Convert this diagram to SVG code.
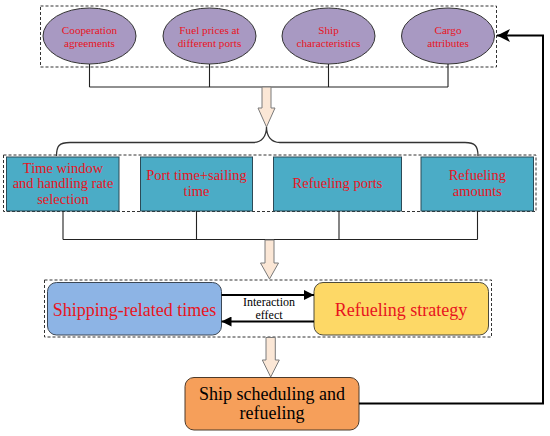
<svg xmlns="http://www.w3.org/2000/svg" width="550" height="436" viewBox="0 0 550 436">
<defs>
<style>
.dash{fill:none;stroke:#333;stroke-width:1;stroke-dasharray:3 2}
.ell{fill:#a899c2;stroke:#333;stroke-width:1}
.teal{fill:#4bacc6;stroke:#2b4a57;stroke-width:1}
.ln{fill:none;stroke:#222;stroke-width:1.1}
.blk{fill:#fbe7d6;stroke:#7a7a7a;stroke-width:1}
.rt{font-family:"Liberation Serif","Times New Roman",serif;fill:#e8141e;text-anchor:middle}
.bt{font-family:"Liberation Serif","Times New Roman",serif;fill:#000;text-anchor:middle}
</style>
<marker id="ah" viewBox="0 0 10 10" refX="10" refY="5" markerWidth="10" markerHeight="10" markerUnits="userSpaceOnUse" orient="auto">
<path d="M0,0 L10,5 L0,10 z" fill="#000"/>
</marker>
<marker id="ah2" viewBox="0 0 12 12" refX="12" refY="6" markerWidth="13" markerHeight="13" markerUnits="userSpaceOnUse" orient="auto">
<path d="M0,0 L12,6 L0,12 L3,6 z" fill="#000"/>
</marker>
</defs>
<rect width="550" height="436" fill="#fff"/>

<g id="group-factors">
<rect class="dash" x="40.5" y="6" width="456" height="61"/>
</g>
<g id="node-cooperation">
<ellipse class="ell" cx="89.5" cy="36" rx="46.5" ry="28"/>
<text class="rt" font-size="11.2" x="89.5" y="33.5">Cooperation</text>
<text class="rt" font-size="11.2" x="89.5" y="46.5">agreements</text>
</g>
<g id="node-fuel">
<ellipse class="ell" cx="209.5" cy="36" rx="46.5" ry="28"/>
<text class="rt" font-size="11.2" x="209.5" y="33.5">Fuel prices at</text>
<text class="rt" font-size="11.2" x="209.5" y="46.5">different ports</text>
</g>
<g id="node-ship">
<ellipse class="ell" cx="328.5" cy="36" rx="46.5" ry="28"/>
<text class="rt" font-size="11.2" x="328.5" y="33.5">Ship</text>
<text class="rt" font-size="11.2" x="328.5" y="46.5">characteristics</text>
</g>
<g id="node-cargo">
<ellipse class="ell" cx="448" cy="36" rx="46.5" ry="28"/>
<text class="rt" font-size="11.2" x="448" y="33.5">Cargo</text>
<text class="rt" font-size="11.2" x="448" y="46.5">attributes</text>
</g>

<g id="group-decisions">
<rect class="dash" x="3.5" y="155" width="532.5" height="56.5"/>
</g>
<g id="node-timewindow">
<rect class="teal" x="6.5" y="157" width="112.5" height="54"/>
<text class="rt" font-size="14.5" x="63" y="172.5">Time window</text>
<text class="rt" font-size="14.5" x="63" y="188">and handling rate</text>
<text class="rt" font-size="14.5" x="63" y="203.5">selection</text>
</g>
<g id="node-porttime">
<rect class="teal" x="140.5" y="157" width="112" height="54"/>
<text class="rt" font-size="14.5" x="196.5" y="180">Port time+sailing</text>
<text class="rt" font-size="14.5" x="196.5" y="196">time</text>
</g>
<g id="node-refuelports">
<rect class="teal" x="273.5" y="157" width="128" height="54"/>
<text class="rt" font-size="14.5" x="337.5" y="188">Refueling ports</text>
</g>
<g id="node-refuelamounts">
<rect class="teal" x="421" y="157" width="112.5" height="54"/>
<text class="rt" font-size="14.5" x="477.3" y="180">Refueling</text>
<text class="rt" font-size="14.5" x="477.3" y="196">amounts</text>
</g>

<g id="group-interaction">
<rect class="dash" x="44.5" y="280" width="447" height="57"/>
</g>
<g id="node-shippingtimes">
<rect x="47.5" y="282.5" width="174" height="52.5" rx="9" fill="#8db4e5" stroke="#3b4756" stroke-width="1"/>
<text class="rt" font-size="18" x="134.5" y="316">Shipping-related times</text>
</g>
<g id="node-refuelstrategy">
<rect x="314" y="282.5" width="174.5" height="52.5" rx="9" fill="#fdd866" stroke="#4d4a3a" stroke-width="1"/>
<text class="rt" font-size="18" x="401" y="316">Refueling strategy</text>
</g>
<g id="node-scheduling">
<rect x="185" y="377.5" width="174" height="52.5" rx="9" fill="#f69f5a" stroke="#4d3a2a" stroke-width="1"/>
<text class="bt" font-size="18" x="272" y="400">Ship scheduling and</text>
<text class="bt" font-size="18" x="272" y="419">refueling</text>
</g>

<g id="connectors">
<path class="ln" d="M89.5,64 V87 M209.5,64 V87 M328.5,64 V87 M448,64 V87 M89.5,87 H448"/>
<polygon class="blk" points="262,87 271,87 271,108 275,108 266.5,127 258,108 262,108"/>
<path fill="none" stroke="#333" stroke-width="1.3" d="M56.5,156 C56.5,146 59,142.5 70,142.5 L253,142.5 C262,142.5 266.5,136 266.5,127 C266.5,136 271,142.5 280,142.5 L465,142.5 C475,142.5 478,146 478,156"/>
<path class="ln" d="M63,211 V239.5 M196.5,211 V239.5 M339,211 V239.5 M477.5,211 V239.5 M63,239.5 H477.5"/>
<polygon class="blk" points="265,240 274,240 274,263 278.5,263 269.5,279 260.5,263 265,263"/>
<line x1="221.5" y1="295" x2="314" y2="295" stroke="#000" stroke-width="1.8" marker-end="url(#ah)"/>
<line x1="314" y1="321.5" x2="221.5" y2="321.5" stroke="#000" stroke-width="1.8" marker-end="url(#ah)"/>
<text class="bt" font-size="12" x="269" y="306">Interaction</text>
<text class="bt" font-size="12" x="269" y="318.5">effect</text>
<polygon class="blk" points="266,337.5 275.3,337.5 275.3,360 279.3,360 270.7,377 262.3,360 266,360"/>
<path fill="none" stroke="#000" stroke-width="2" d="M359,403.5 H543 V35.5 H497" marker-end="url(#ah2)"/>
</g>
</svg>
